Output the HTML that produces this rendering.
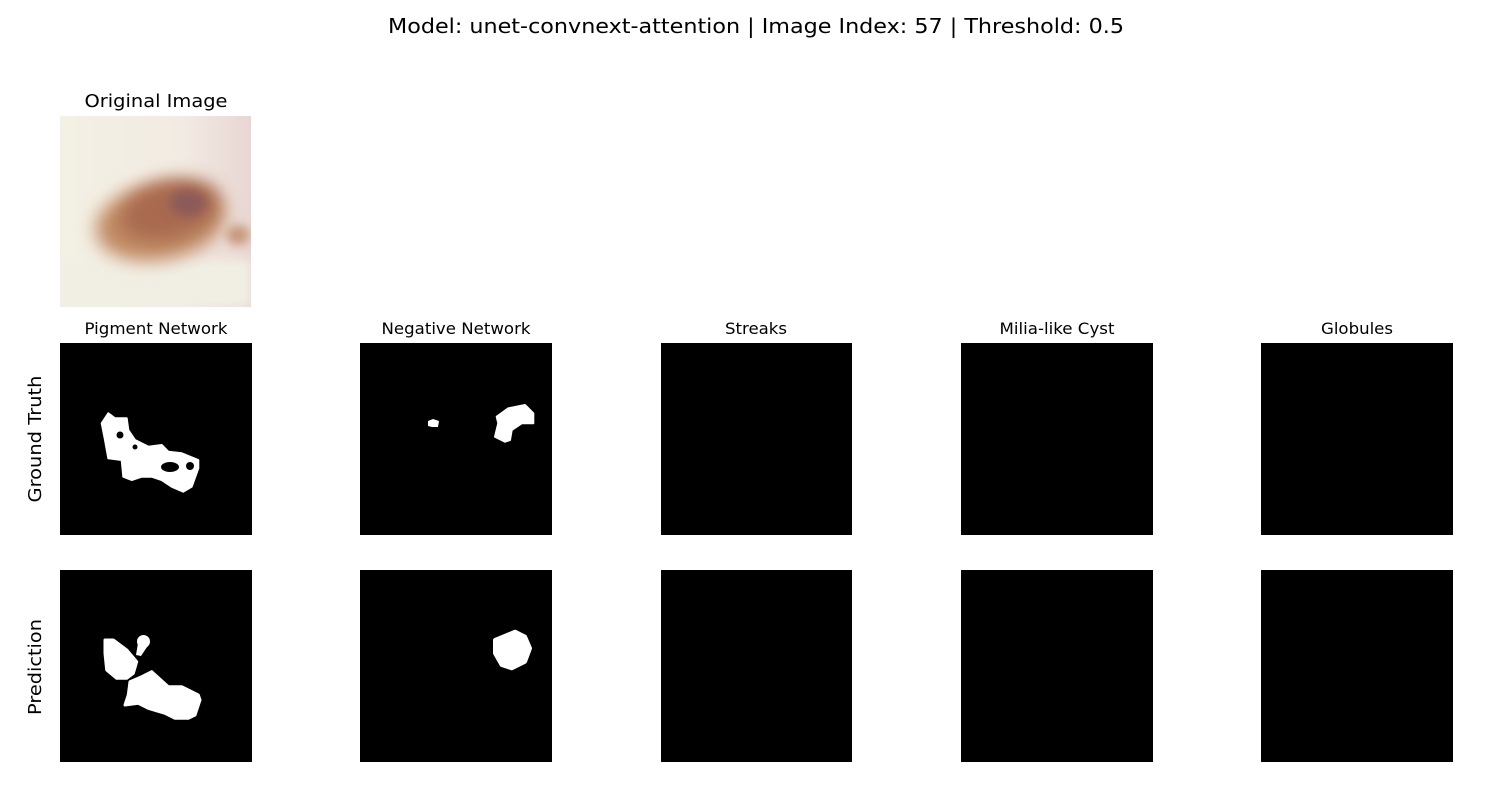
<!DOCTYPE html>
<html><head><meta charset="utf-8"><style>
html,body{margin:0;padding:0;background:#fff;}
svg text{font-family:"DejaVu Sans","Liberation Sans",sans-serif;fill:#000;}
</style></head><body>
<svg width="1512" height="800" viewBox="0 0 1512 800" xmlns="http://www.w3.org/2000/svg">
<defs>
<filter id="blur8" x="-50%" y="-50%" width="200%" height="200%"><feGaussianBlur stdDeviation="9"/></filter>
<filter id="blur4" x="-50%" y="-50%" width="200%" height="200%"><feGaussianBlur stdDeviation="5"/></filter>
<clipPath id="origclip"><rect x="60" y="116" width="191" height="191"/></clipPath>
<linearGradient id="skin" x1="0" y1="0" x2="1" y2="0">
<stop offset="0" stop-color="#f3f0e4"/><stop offset="0.65" stop-color="#f2ebe3"/><stop offset="1" stop-color="#e8d6d2"/></linearGradient>
</defs>
<text x="756" y="33" font-size="20" textLength="736" lengthAdjust="spacingAndGlyphs" text-anchor="middle">Model: unet-convnext-attention | Image Index: 57 | Threshold: 0.5</text>

<g>
<text x="156" y="107" font-size="18" textLength="143" lengthAdjust="spacingAndGlyphs" text-anchor="middle">Original Image</text>
<g clip-path="url(#origclip)">
<rect x="60" y="116" width="191" height="191" fill="url(#skin)"/>
<rect x="60" y="260" width="191" height="47" fill="#f1efe4" filter="url(#blur4)"/>
<ellipse cx="160" cy="222" rx="65" ry="38" fill="#c08a62" filter="url(#blur8)" transform="rotate(-10 160 222)"/>
<ellipse cx="170" cy="210" rx="50" ry="28" fill="#a8694f" filter="url(#blur8)" transform="rotate(-15 170 210)"/>
<ellipse cx="188" cy="203" rx="18" ry="13" fill="#8c5a58" filter="url(#blur4)"/>
<ellipse cx="238" cy="235" rx="12" ry="10" fill="#c8987a" filter="url(#blur4)"/>
</g>
</g>

<g>
<text x="156" y="334" font-size="16" textLength="143" lengthAdjust="spacingAndGlyphs" text-anchor="middle">Pigment Network</text>
<text x="456" y="334" font-size="16" textLength="149" lengthAdjust="spacingAndGlyphs" text-anchor="middle">Negative Network</text>
<text x="756" y="334" font-size="16" textLength="62" lengthAdjust="spacingAndGlyphs" text-anchor="middle">Streaks</text>
<text x="1057" y="334" font-size="16" textLength="115" lengthAdjust="spacingAndGlyphs" text-anchor="middle">Milia-like Cyst</text>
<text x="1357" y="334" font-size="16" textLength="72" lengthAdjust="spacingAndGlyphs" text-anchor="middle">Globules</text>
</g>
<text transform="translate(41 439) rotate(-90)" font-size="18" textLength="127" lengthAdjust="spacingAndGlyphs" text-anchor="middle">Ground Truth</text>
<text transform="translate(41 667) rotate(-90)" font-size="18" textLength="96" lengthAdjust="spacingAndGlyphs" text-anchor="middle">Prediction</text>

<g>
<rect x="60" y="343" width="192" height="192" fill="#000"/>
<rect x="360" y="343" width="192" height="192" fill="#000"/>
<rect x="661" y="343" width="191" height="192" fill="#000"/>
<rect x="961" y="343" width="192" height="192" fill="#000"/>
<rect x="1261" y="343" width="192" height="192" fill="#000"/>
<polygon fill="#fff" stroke="#fff" stroke-width="2" stroke-linejoin="round" points="101.7,423.3 108.3,413.3 115,418.3 126.7,418.3 128.3,430 135,440 148.3,446.7 161.7,445 168.3,451.7 181.7,453.3 198.3,460 198.3,468.3 191.7,486.7 183.3,491.7 171.7,486.7 161.7,480 151.7,476.7 141.7,476.7 131.7,480 123.3,476.7 121.7,460 108.3,458.3 105,440"/>
<circle cx="120" cy="435" r="3.5" fill="#000"/>
<circle cx="135" cy="447" r="2.5" fill="#000"/>
<ellipse cx="170" cy="467" rx="9" ry="5" fill="#000"/>
<circle cx="190" cy="466" r="4" fill="#000"/>
<polygon fill="#fff" points="428,421 433,419 439,421 438,427 432,427 428,426"/>
<polygon fill="#fff" stroke="#fff" stroke-width="2" stroke-linejoin="round" points="496.7,416.7 508.3,408.3 525,405 533.3,413.3 533.3,423.3 521.7,423.3 511.7,430 510,440 505,441.7 495,436.7 498.3,423.3"/>
</g>

<g>
<rect x="60" y="570" width="192" height="192" fill="#000"/>
<rect x="360" y="570" width="192" height="192" fill="#000"/>
<rect x="661" y="570" width="191" height="192" fill="#000"/>
<rect x="961" y="570" width="192" height="192" fill="#000"/>
<rect x="1261" y="570" width="192" height="192" fill="#000"/>
<polygon fill="#fff" stroke="#fff" stroke-width="3" stroke-linejoin="round" points="105,640 113.3,640 126.7,650 136.7,661.7 133.3,673.3 126.7,678.3 116.7,678.3 106.7,670 105,653.3"/>
<circle cx="143.5" cy="641.5" r="6.5" fill="#fff"/>
<polygon fill="#fff" points="138,643 149,644 141,656 136,655"/>
<polygon fill="#fff" stroke="#fff" stroke-width="3" stroke-linejoin="round" points="130,681.7 141.7,676.7 151.7,671.7 168.3,686.7 181.7,686.7 198.3,695 200,700 195,715 188.3,718.3 175,718.3 165,713.3 148.3,708.3 138.3,703.3 125,705 128.3,695"/>
<polygon fill="#fff" stroke="#fff" stroke-width="4" stroke-linejoin="round" points="495,640 515,631.7 525,636.7 530,648.3 525,661.7 511.7,668.3 501.7,665 495,653.3"/>
</g>
</svg>
</body></html>
